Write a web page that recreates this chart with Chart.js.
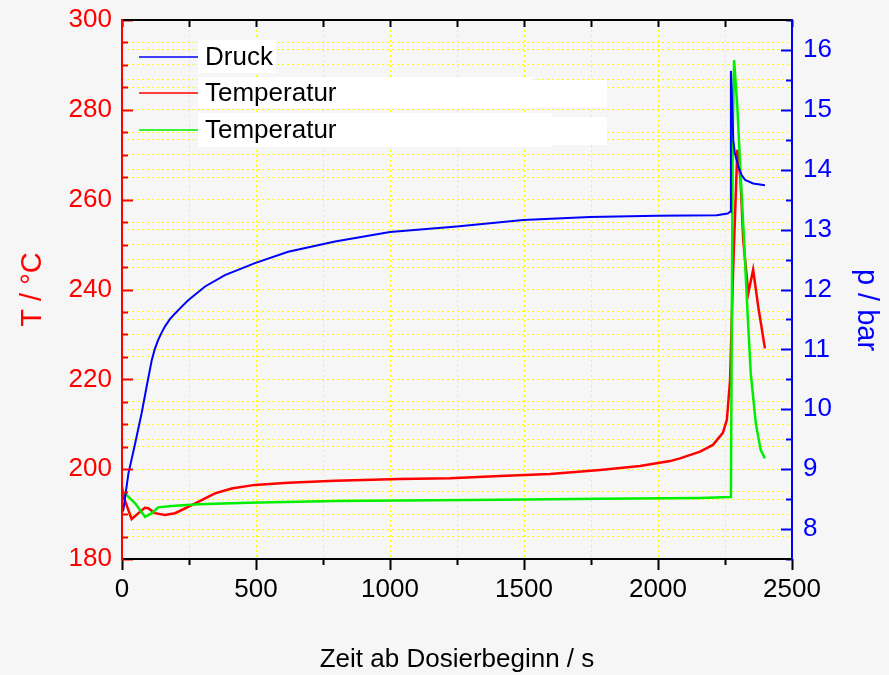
<!DOCTYPE html>
<html>
<head>
<meta charset="utf-8">
<script src="https://cdn.jsdelivr.net/npm/chart.js@4.4.1/dist/chart.umd.min.js"></script>
<style>
  html, body { margin: 0; padding: 0; background: #f6f6f6; }
  #wrap { width: 889px; height: 675px; }
</style>
</head>
<body>
<div id="wrap"><canvas id="reaktorChart" width="889" height="675"></canvas></div>
<script>
// Druck (rechte Achse, bar)
var druckZeit = [0, 5, 24, 49, 73, 92, 111, 122, 135, 148, 160, 178, 198, 222, 247, 310, 384, 496, 620, 795, 1000, 1249, 1497, 1746, 1995, 2219, 2260, 2269, 2272, 2275, 2281, 2287, 2300, 2312, 2325, 2355, 2399];
var druckWert = [8.28, 8.32, 8.93, 9.43, 9.93, 10.38, 10.82, 11.0, 11.16, 11.28, 11.38, 11.50, 11.60, 11.71, 11.82, 12.05, 12.24, 12.44, 12.63, 12.80, 12.96, 13.05, 13.16, 13.21, 13.23, 13.24, 13.27, 13.30, 15.65, 15.33, 14.49, 14.27, 14.05, 13.91, 13.83, 13.77, 13.74];

// Temperatur 1 (rot, linke Achse)
var temp1Zeit = [0, 8, 36, 67, 85, 98, 123, 160, 198, 260, 310, 347, 409, 496, 620, 795, 1037, 1224, 1410, 1597, 1784, 1933, 2045, 2082, 2157, 2205, 2242, 2257, 2269, 2280, 2296, 2308, 2318, 2337, 2355, 2374, 2399];
var temp1Wert = [196, 193.5, 188.9, 190.5, 191.4, 191.3, 190.2, 189.8, 190.2, 192.0, 193.5, 194.6, 195.7, 196.5, 197.0, 197.4, 197.8, 198.0, 198.5, 198.9, 199.8, 200.7, 201.8, 202.4, 203.9, 205.4, 208.1, 211.0, 219.9, 243.7, 271.1, 264.4, 251.0, 239.2, 244.4, 236.2, 226.9];

// Temperatur 2 (gruen, linke Achse)
var temp2Zeit = [0, 11, 49, 86, 111, 135, 185, 285, 471, 795, 1037, 1410, 1784, 2157, 2269, 2272, 2279, 2284, 2296, 2308, 2321, 2333, 2346, 2365, 2383, 2399];
var temp2Wert = [195, 194.6, 192.4, 189.4, 190.2, 191.5, 191.8, 192.2, 192.5, 192.9, 193.0, 193.2, 193.4, 193.6, 193.8, 194.0, 275, 291.1, 280.7, 265.9, 251.0, 236.2, 221.4, 210.2, 204.3, 202.4];

var serienNamen = ["Druck", "Temperatur", "Temperatur"];
var serienFarben = ["#0000ff", "#ff0000", "#00ee00"];

function punkte(zeit, wert) {
    var arr = [];
    for (var i = 0; i < zeit.length; i++) arr.push({x: zeit[i], y: wert[i]});
    return arr;
}

var gelb = '#ffff00';
var schrift = "'Liberation Sans', Arial, sans-serif";

// Rahmen, nach innen zeigende Ticks, rechter Achsentitel und Legende
var rahmenPlugin = {
    id: 'rahmen',
    afterDraw: function(chart) {
        var ctx = chart.ctx;
        var a = chart.chartArea;
        var sx = chart.scales.x, sy = chart.scales.y, sy1 = chart.scales.y1;
        ctx.save();
        ctx.lineWidth = 2;

        // x ticks
        ctx.strokeStyle = '#000';
        sx.ticks.forEach(function(t) {
            var px = Math.round(sx.getPixelForValue(t.value)) + 0.5;
            var gross = t.value % 500 === 0;
            ctx.beginPath();
            ctx.moveTo(px, a.bottom);
            ctx.lineTo(px, a.bottom + (gross ? 11 : 6));
            ctx.moveTo(px, a.top);
            ctx.lineTo(px, a.top + 7);
            ctx.stroke();
        });
        // linke Achse
        ctx.strokeStyle = '#ff0000';
        sy.ticks.forEach(function(t) {
            var py = Math.round(sy.getPixelForValue(t.value)) + 0.5;
            var gross = t.value % 20 === 0;
            ctx.beginPath();
            ctx.moveTo(a.left, py);
            ctx.lineTo(a.left + (gross ? 11 : 6), py);
            ctx.stroke();
        });
        // rechte Achse
        ctx.strokeStyle = '#0000ff';
        sy1.ticks.forEach(function(t) {
            var py = Math.round(sy1.getPixelForValue(t.value)) + 0.5;
            var gross = Math.abs(t.value - Math.round(t.value)) < 1e-6;
            ctx.beginPath();
            ctx.moveTo(a.right, py);
            ctx.lineTo(a.right - (gross ? 11 : 6), py);
            ctx.stroke();
        });

        // Rahmen
        ctx.strokeStyle = '#000';
        ctx.beginPath();
        ctx.moveTo(a.left, a.top); ctx.lineTo(a.right, a.top);
        ctx.moveTo(a.left, a.bottom); ctx.lineTo(a.right, a.bottom);
        ctx.stroke();
        ctx.strokeStyle = '#ff0000';
        ctx.beginPath();
        ctx.moveTo(a.left, a.top - 1); ctx.lineTo(a.left, a.bottom + 1);
        ctx.stroke();
        ctx.strokeStyle = '#0000ff';
        ctx.beginPath();
        ctx.moveTo(a.right, a.top - 1); ctx.lineTo(a.right, a.bottom + 1);
        ctx.stroke();

        // Titel rechte Achse (etwas unterhalb der Mitte)
        ctx.save();
        ctx.translate(866, 310);
        ctx.rotate(Math.PI / 2);
        ctx.font = '29px ' + schrift;
        ctx.fillStyle = '#0000ff';
        ctx.textAlign = 'center';
        ctx.textBaseline = 'middle';
        ctx.fillText('p / bar', 0, 0);
        ctx.restore();

        // Legende mit weissen Feldern
        ctx.fillStyle = '#ffffff';
        ctx.fillRect(198, 40, 78, 33);
        ctx.fillRect(198, 77, 335, 31);
        ctx.fillRect(348, 80, 259, 27);
        ctx.fillRect(198, 113, 354, 34);
        ctx.fillRect(348, 117, 259, 28);
        var zeilen = [57, 93, 130];
        ctx.font = '26px ' + schrift;
        ctx.textBaseline = 'middle';
        ctx.textAlign = 'left';
        chart.data.datasets.forEach(function(ds, i) {
            ctx.strokeStyle = ds.borderColor;
            ctx.lineWidth = 1.5;
            ctx.beginPath();
            ctx.moveTo(139, zeilen[i]);
            ctx.lineTo(198, zeilen[i]);
            ctx.stroke();
            ctx.fillStyle = '#000';
            ctx.fillText(ds.label, 205, zeilen[i] + 1);
        });
        ctx.restore();
    }
};

function keinPadding(s) {
    s.paddingTop = 0;
    s.paddingBottom = 0;
    s.paddingLeft = 0;
    s.paddingRight = 0;
}

var gitter = {
    color: gelb,
    lineWidth: 1,
    drawTicks: false
};

new Chart(document.getElementById('reaktorChart'), {
    type: 'line',
    data: {
        datasets: [
            {label: serienNamen[0], data: punkte(druckZeit, druckWert), yAxisID: 'y1', borderColor: serienFarben[0], borderWidth: 2, order: 0},
            {label: serienNamen[1], data: punkte(temp1Zeit, temp1Wert), yAxisID: 'y', borderColor: serienFarben[1], borderWidth: 2.5, order: 2},
            {label: serienNamen[2], data: punkte(temp2Zeit, temp2Wert), yAxisID: 'y', borderColor: serienFarben[2], borderWidth: 2.5, order: 1}
        ]
    },
    options: {
        responsive: false,
        animation: false,
        events: [],
        elements: {
            point: {radius: 0},
            line: {tension: 0, fill: false}
        },
        layout: {padding: {top: 20, left: 0, right: 0, bottom: 0}},
        plugins: {
            legend: {display: false},
            tooltip: {enabled: false}
        },
        scales: {
            x: {
                type: 'linear',
                min: 0,
                max: 2500,
                afterFit: function(s) { s.height = 116; keinPadding(s); },
                grid: gitter,
                border: {display: false, dash: [2, 3]},
                ticks: {
                    stepSize: 250,
                    autoSkip: false,
                    maxRotation: 0,
                    padding: 15,
                    color: '#000',
                    font: {family: schrift, size: 26},
                    callback: function(v) { return v % 500 === 0 ? String(v) : ''; }
                },
                title: {
                    display: true,
                    text: 'Zeit ab Dosierbeginn / s',
                    color: '#000',
                    font: {family: schrift, size: 26, lineHeight: 1.2},
                    padding: {top: 0, bottom: 0}
                }
            },
            y: {
                position: 'left',
                min: 180,
                max: 300,
                afterFit: function(s) { s.width = 122; keinPadding(s); },
                grid: gitter,
                border: {display: false, dash: [2, 3]},
                ticks: {
                    stepSize: 5,
                    autoSkip: false,
                    padding: 10,
                    color: '#ff0000',
                    font: {family: schrift, size: 26},
                    callback: function(v) { return v % 20 === 0 ? String(v) : ''; }
                },
                title: {
                    display: true,
                    text: 'T / °C',
                    color: '#ff0000',
                    font: {family: schrift, size: 29, lineHeight: 1.2},
                    padding: {top: 16, bottom: 0}
                }
            },
            y1: {
                position: 'right',
                min: 7.5,
                max: 16.5,
                afterFit: function(s) { s.width = 97; keinPadding(s); },
                grid: gitter,
                border: {display: false, dash: [2, 3]},
                ticks: {
                    stepSize: 0.5,
                    autoSkip: false,
                    padding: 11,
                    color: '#0000ff',
                    font: {family: schrift, size: 26},
                    callback: function(v) { return Math.abs(v - Math.round(v)) < 1e-6 ? String(Math.round(v)) : ''; }
                },
                title: {display: false}
            }
        }
    },
    plugins: [rahmenPlugin]
});
</script>
</body>
</html>
